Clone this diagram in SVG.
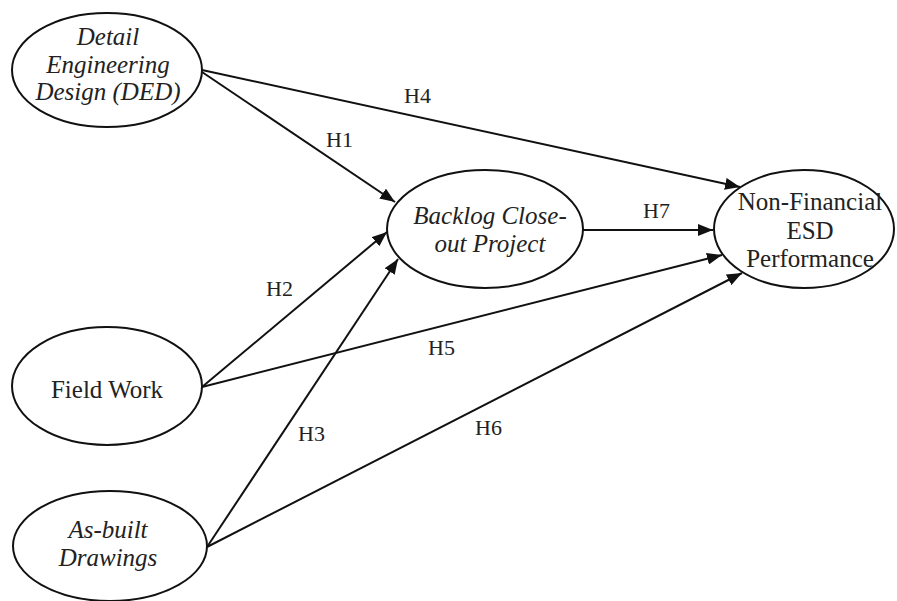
<svg xmlns="http://www.w3.org/2000/svg" width="897" height="601" viewBox="0 0 897 601">
<style>
.node ellipse{fill:#fff;stroke:#111;stroke-width:2}
.node text{font-family:'Liberation Serif','Times New Roman',serif;font-size:25px;fill:#222;text-anchor:middle}
.it{font-style:italic}
.edges line{stroke:#111;stroke-width:2;marker-end:url(#arr)}
.lbl{font-family:'Liberation Serif','Times New Roman',serif;font-size:22px;fill:#222}
</style>
<defs>
<marker id="arr" markerUnits="userSpaceOnUse" markerWidth="15" markerHeight="12" refX="15" refY="6" orient="auto">
<path d="M0,0 L15,6 L0,12 z" fill="#111"/>
</marker>
</defs>
<rect width="897" height="601" fill="#fff"/>
<g class="edges">
<line x1="202" y1="70" x2="740" y2="187"/>
<line x1="202" y1="72" x2="395" y2="202"/>
<line x1="202" y1="387" x2="387" y2="232"/>
<line x1="202" y1="387" x2="722" y2="255"/>
<line x1="207" y1="547" x2="398" y2="259"/>
<line x1="207" y1="547" x2="742" y2="273"/>
<line x1="583" y1="230" x2="713" y2="230"/>
</g>
<g id="ded" class="node">
<ellipse cx="107" cy="70" rx="95" ry="57"/>
<text class="it" x="108" y="45">Detail</text>
<text class="it" x="108" y="73">Engineering</text>
<text class="it" x="108" y="100">Design (DED)</text>
</g>
<g id="fieldwork" class="node">
<ellipse cx="107" cy="386" rx="95" ry="59"/>
<text x="107" y="398">Field Work</text>
</g>
<g id="asbuilt" class="node">
<ellipse cx="110" cy="546" rx="97" ry="55"/>
<text class="it" x="108" y="538">As-built</text>
<text class="it" x="108" y="566">Drawings</text>
</g>
<g id="backlog" class="node">
<ellipse cx="485" cy="229" rx="98" ry="59"/>
<text class="it" x="490" y="224">Backlog Close-</text>
<text class="it" x="490" y="252">out Project</text>
</g>
<g id="nonfin" class="node">
<ellipse cx="804" cy="229" rx="90" ry="59"/>
<text x="810" y="210">Non-Financial</text>
<text x="810" y="239">ESD</text>
<text x="810" y="267">Performance</text>
</g>
<g id="labels">
<text class="lbl" x="326" y="147">H1</text>
<text class="lbl" x="266" y="296">H2</text>
<text class="lbl" x="298" y="441">H3</text>
<text class="lbl" x="404" y="103">H4</text>
<text class="lbl" x="428" y="355">H5</text>
<text class="lbl" x="475" y="435">H6</text>
<text class="lbl" x="643" y="218">H7</text>
</g>
</svg>
